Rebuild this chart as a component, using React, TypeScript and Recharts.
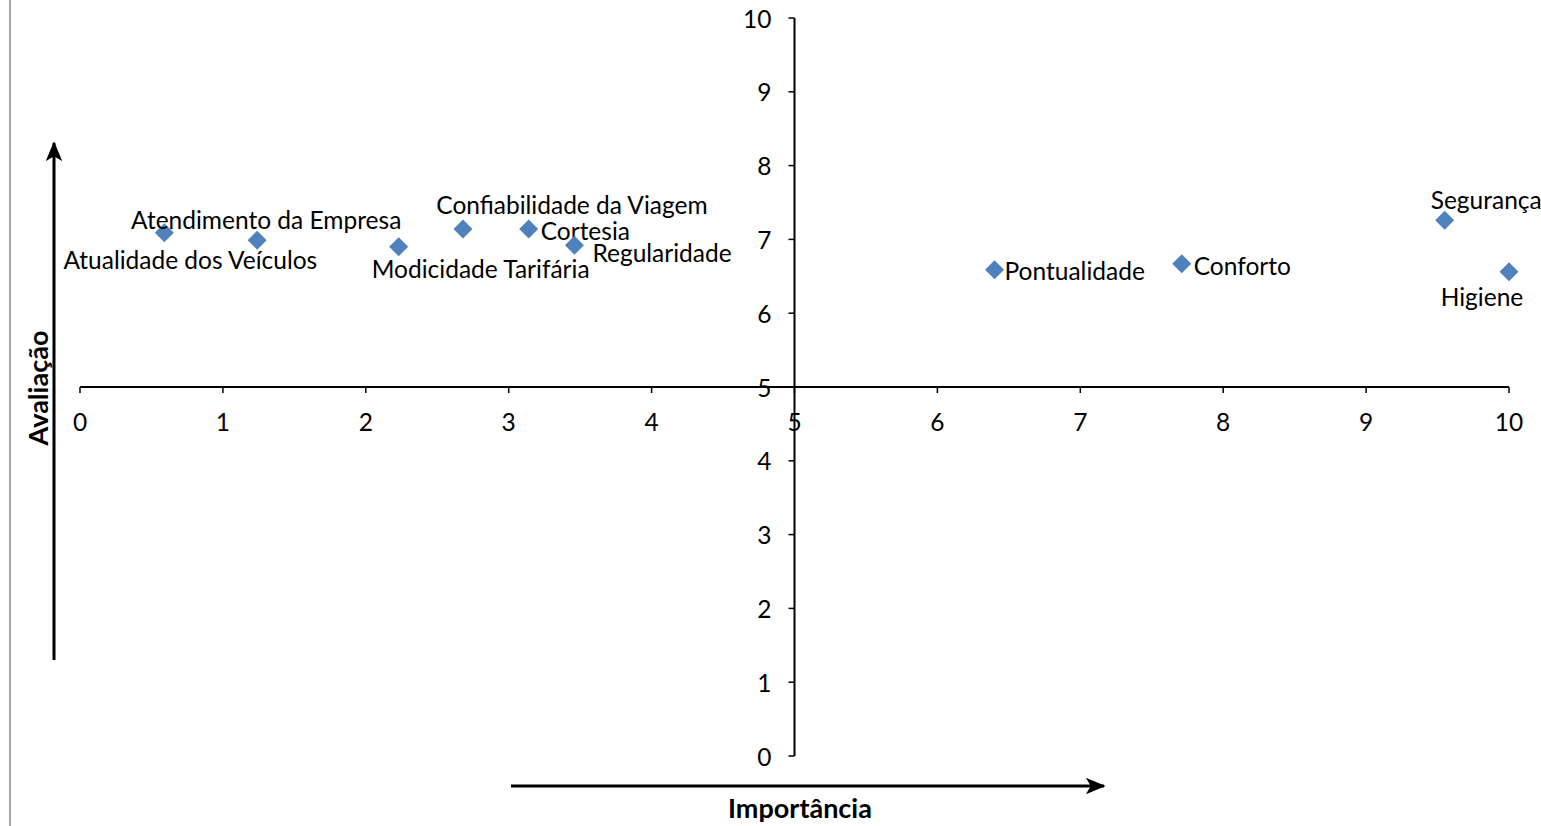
import {
  ScatterChart,
  Scatter,
  XAxis,
  YAxis,
  ReferenceLine,
  ReferenceDot,
} from "recharts";

const atributos = [
  "Atualidade dos Veículos",
  "Atendimento da Empresa",
  "Modicidade Tarifária",
  "Confiabilidade da Viagem",
  "Cortesia",
  "Regularidade",
  "Pontualidade",
  "Conforto",
  "Segurança",
  "Higiene",
];
const importancia = [0.59, 1.24, 2.23, 2.68, 3.14, 3.46, 6.4, 7.71, 9.55, 10];
const avaliacao = [7.09, 6.99, 6.9, 7.14, 7.14, 6.92, 6.59, 6.67, 7.26, 6.56];
const ticks = [0, 1, 2, 3, 4, 5, 6, 7, 8, 9, 10];

// where each data label sits relative to its marker
const labelPos: { [k: string]: { dx: number; dy: number; anchor: string } } = {
  "Atualidade dos Veículos": { dx: 26, dy: 27, anchor: "middle" },
  "Atendimento da Empresa": { dx: 9, dy: -21, anchor: "middle" },
  "Modicidade Tarifária": { dx: 82, dy: 22, anchor: "middle" },
  "Confiabilidade da Viagem": { dx: 109, dy: -25, anchor: "middle" },
  Cortesia: { dx: 12, dy: 1, anchor: "start" },
  Regularidade: { dx: 18, dy: 7, anchor: "start" },
  Pontualidade: { dx: 10, dy: 1, anchor: "start" },
  Conforto: { dx: 12, dy: 2, anchor: "start" },
  Segurança: { dx: -14, dy: -21, anchor: "start" },
  Higiene: { dx: -27, dy: 25, anchor: "middle" },
};

const data = atributos.map((nome, i) => ({
  nome,
  x: importancia[i],
  y: avaliacao[i],
}));

const FONT = "Lato, sans-serif";
const FS = 24.5;
const BLUE = "#4f81bd";

function Diamond(props: any) {
  const { cx, cy, payload } = props;
  const p = labelPos[payload.nome];
  const h = 9.5;
  return (
    <g>
      <polygon
        points={`${cx},${cy - h} ${cx + h},${cy} ${cx},${cy + h} ${cx - h},${cy}`}
        fill={BLUE}
      />
      <text
        x={cx + p.dx}
        y={cy + p.dy}
        textAnchor={p.anchor as any}
        dominantBaseline="central"
        fontFamily={FONT}
        fontSize={FS}
        fill="#000"
      >
        {payload.nome}
      </text>
    </g>
  );
}

function XTick(props: any) {
  const { cx, cy, label } = props;
  return (
    <g>
      <line x1={cx} y1={cy} x2={cx} y2={cy + 6} stroke="#000" strokeWidth={1.5} />
      <text x={cx} y={cy + 34} textAnchor="middle" dominantBaseline="central"
        fontFamily={FONT} fontSize={FS} fill="#000">
        {label}
      </text>
    </g>
  );
}

function YTick(props: any) {
  const { cx, cy, label } = props;
  return (
    <g>
      <line x1={cx - 6} y1={cy} x2={cx} y2={cy} stroke="#000" strokeWidth={1.5} />
      <text x={cx - 23} y={cy} textAnchor="end" dominantBaseline="central"
        fontFamily={FONT} fontSize={FS} fill="#000">
        {label}
      </text>
    </g>
  );
}

export default function App() {
  return (
    <div style={{ position: "absolute", left: 0, top: 0, width: 1541, height: 826, background: "#fff" }}>
      <ScatterChart
        width={1541}
        height={826}
        margin={{ top: 18, right: 32, bottom: 70, left: 80 }}
      >
        <XAxis type="number" dataKey="x" domain={[0, 10]} ticks={ticks} hide />
        <YAxis type="number" dataKey="y" domain={[0, 10]} ticks={ticks} hide />
        <ReferenceLine y={5} stroke="#000" strokeWidth={2} />
        <ReferenceLine x={5} stroke="#000" strokeWidth={2} />
        {ticks.map((t) => (
          <ReferenceDot key={"x" + t} x={t} y={5} ifOverflow="visible"
            shape={(p: any) => <XTick {...p} label={t} />} />
        ))}
        {ticks.map((t) => (
          <ReferenceDot key={"y" + t} x={5} y={t} ifOverflow="visible"
            shape={(p: any) => <YTick {...p} label={t} />} />
        ))}
        <Scatter data={data} shape={Diamond} isAnimationActive={false} />
      </ScatterChart>
      <svg
        width={1541}
        height={826}
        style={{ position: "absolute", left: 0, top: 0, pointerEvents: "none" }}
      >
        <defs>
          <marker id="seta" viewBox="0 0 12 10" refX="11" refY="5"
            markerWidth="7" markerHeight="5.5" orient="auto">
            <path d="M0,0 L12,5 L0,10 L3,5 Z" fill="#000" />
          </marker>
        </defs>
        <line x1={10} y1={0} x2={10} y2={826} stroke="#a6a6a6" strokeWidth={2} />
        <line x1={54} y1={660} x2={54} y2={143} stroke="#000" strokeWidth={3} markerEnd="url(#seta)" />
        <line x1={511} y1={786} x2={1104} y2={786} stroke="#000" strokeWidth={3} markerEnd="url(#seta)" />
        <text x={37} y={388} transform="rotate(-90 37 388)" textAnchor="middle"
          dominantBaseline="central" fontFamily={FONT} fontWeight="bold" fontSize={27} fill="#000">
          Avaliação
        </text>
        <text x={800} y={807} textAnchor="middle" dominantBaseline="central"
          fontFamily={FONT} fontWeight="bold" fontSize={27} fill="#000">
          Importância
        </text>
      </svg>
    </div>
  );
}
